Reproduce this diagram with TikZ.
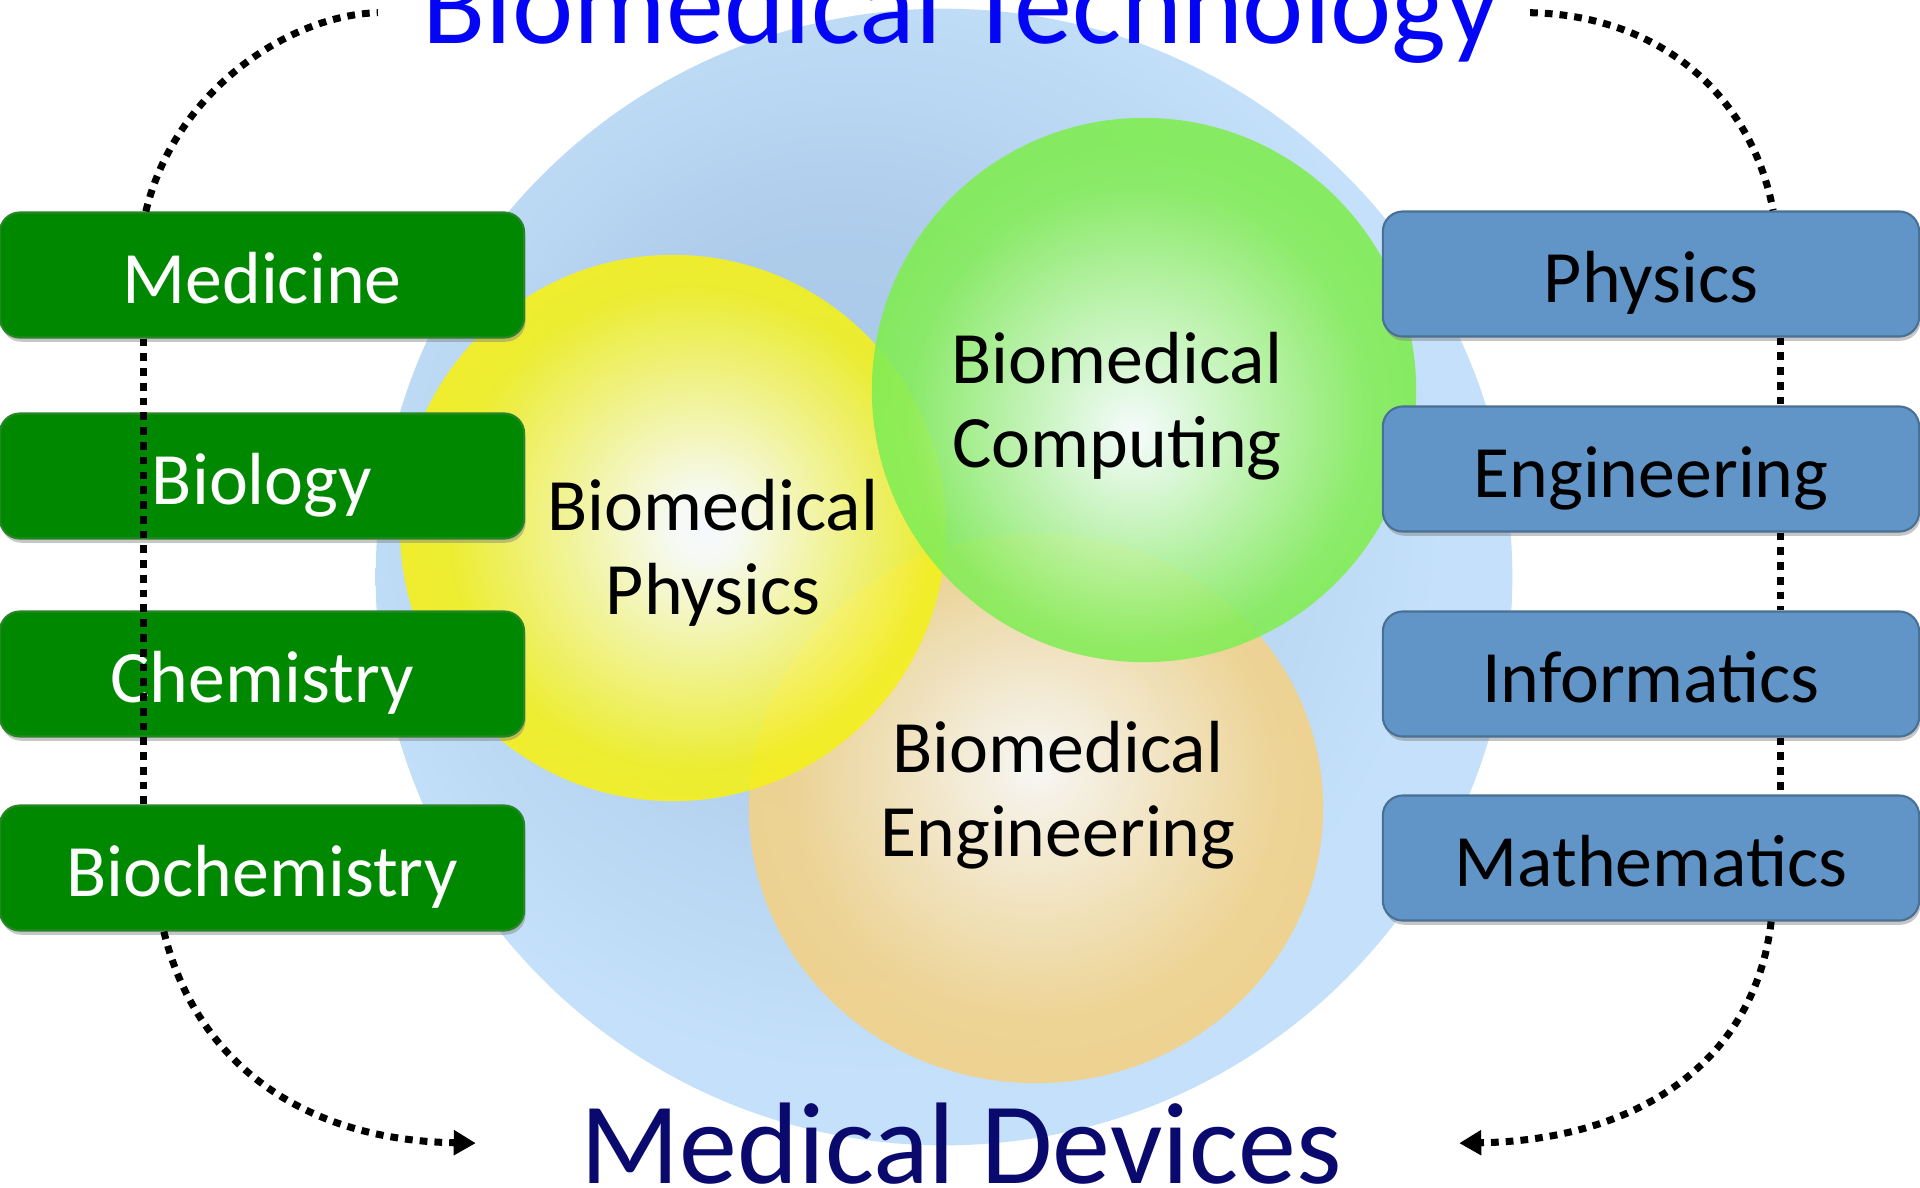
\documentclass[tikz,border=0pt]{standalone}
\usepackage{fontspec}
\setmainfont{Carlito}
\usepackage{tikz}
\usetikzlibrary{arrows.meta, shadows}

\definecolor{verdecaixa}{RGB}{0,137,0}
\definecolor{azulcaixa}{RGB}{97,149,199}
\definecolor{azultitulo}{RGB}{5,5,245}
\definecolor{azulescuro}{RGB}{10,10,110}

% sombreados dos circulos
\pgfdeclareradialshading{fundo}{\pgfpoint{-6bp}{6bp}}{rgb(0bp)=(0.66,0.79,0.91); rgb(10bp)=(0.68,0.80,0.92); rgb(25bp)=(0.77,0.88,0.98); rgb(50bp)=(0.77,0.88,0.98)}
\pgfdeclareradialshading{bolaamarela}{\pgfpoint{3bp}{0bp}}{rgb(0bp)=(1,1,1); rgb(3bp)=(1,1,0.96); rgb(22bp)=(0.95,0.94,0.12); rgb(25bp)=(0.96,0.94,0.1); rgb(50bp)=(0.96,0.94,0.1)}
\pgfdeclareradialshading{bolaverde}{\pgfpoint{-1bp}{-4bp}}{rgb(0bp)=(1,1,1); rgb(2bp)=(0.95,1,0.94); rgb(21bp)=(0.53,0.93,0.36); rgb(25bp)=(0.50,0.93,0.32); rgb(50bp)=(0.50,0.93,0.32)}
\pgfdeclareradialshading{bolalaranja}{\pgfpoint{0bp}{4bp}}{rgb(0bp)=(1,0.99,0.97); rgb(3bp)=(0.99,0.96,0.90); rgb(21bp)=(0.95,0.83,0.55); rgb(25bp)=(0.95,0.82,0.53); rgb(50bp)=(0.95,0.82,0.53)}

\tikzset{
  caixaesq/.style={fill=verdecaixa, draw=verdecaixa!70!gray, line width=0.6pt,
    rounded corners=0.2cm, minimum width=5.24cm, minimum height=1.25cm,
    text=white, font=\fontsize{21}{24}\selectfont, text height=18pt, text depth=2pt,
    drop shadow={shadow xshift=0.4pt, shadow yshift=-1.2pt, opacity=0.45}},
  caixadir/.style={caixaesq, fill=azulcaixa, draw=azulcaixa!75!black, text=black,
    minimum width=5.36cm},
  rotulo/.style={align=center, font=\fontsize{21}{24}\selectfont},
  titulo/.style={inner sep=0pt, anchor=base, font=\fontsize{33}{36}\selectfont},
  pontilhado/.style={line width=2pt, dash pattern=on 2.2pt off 2pt}
}

\begin{document}
\begin{tikzpicture}[x=0.01cm, y=-0.01cm]
        \useasboundingbox (0,0) rectangle (1920,1187);

        % Circulo grande e as tres bolas
        \shade[shading=fundo] (944,577) circle[radius=5.68cm];
        \shade[shading=bolalaranja, opacity=0.9] (1036,808) ellipse[x radius=2.87cm, y radius=2.75cm];
        \shade[shading=bolaamarela, opacity=0.9] (673,528) circle[radius=2.73cm];
        \shade[shading=bolaverde, opacity=0.9] (1144,390) circle[radius=2.72cm];

        \node[rotulo] (fis) at (713,553) {Biomedical\\Physics};
        \node[rotulo] (comp) at (1117,406) {Biomedical\\Computing};
        \node[rotulo] (eng) at (1058,795) {Biomedical\\Engineering};

        % Titulos
        \node[titulo, text=azultitulo] (tec) at (961,43) {Biomedical Technology};
        \node[titulo, text=azulescuro] (disp) at (961,1183) {Medical Devices};

        % Caixas da esquerda
        \node[caixaesq] (med) at (262,275) {Medicine};
        \node[caixaesq] (bio) at (262,476) {Biology};
        \node[caixaesq] (qui) at (262,674) {Chemistry};
        \node[caixaesq] (bqui) at (262,868) {Biochemistry};

        % Caixas da direita
        \node[caixadir] (fisica) at (1651,274) {Physics};
        \node[caixadir] (engenharia) at (1651,469) {Engineering};
        \node[caixadir] (info) at (1651,674) {Informatics};
        \node[caixadir] (mat) at (1651,858) {Mathematics};

        % Linhas pontilhadas
        \draw[pontilhado] ([xshift=1.45cm]med.south west) -- ([xshift=1.45cm]bqui.north west);
        \draw[pontilhado] ([xshift=1.47cm]med.north west)
          .. controls (175,90) and (290,15) .. ([xshift=-0.44cm]tec.west);
        \draw[pontilhado, -{Triangle[length=0.22cm, width=0.24cm]}] ([xshift=1.65cm]bqui.south west)
          .. controls (195,1060) and (300,1140) .. ([xshift=-1.04cm]disp.west);

        \draw[pontilhado] ([xshift=-1.4cm]fisica.south east) -- ([xshift=-1.4cm]engenharia.north east);
        \draw[pontilhado] ([xshift=-1.4cm]engenharia.south east) -- ([xshift=-1.4cm]info.north east);
        \draw[pontilhado] ([xshift=-1.4cm]info.south east) -- ([xshift=-1.4cm]mat.north east);
        \draw[pontilhado] ([xshift=0.3cm]tec.east)
          .. controls (1655,15) and (1750,90) .. ([xshift=-1.47cm]fisica.north east);
        \draw[pontilhado, -{Triangle[length=0.22cm, width=0.24cm]}] ([xshift=-1.49cm]mat.south east)
          .. controls (1755,1060) and (1640,1140) .. ([xshift=1.17cm]disp.east);
    \end{tikzpicture}
\end{document}
